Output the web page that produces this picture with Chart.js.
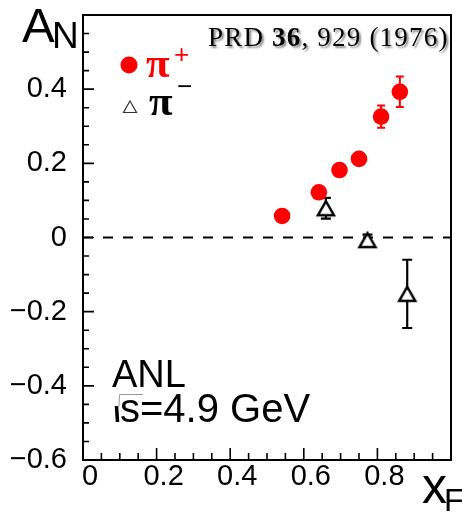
<!DOCTYPE html>
<html>
<head>
<meta charset="utf-8">
<script src="https://cdn.jsdelivr.net/npm/chart.js@4.4.1/dist/chart.umd.min.js"></script>
<style>
  html, body { margin: 0; padding: 0; background: #fff; }
  #wrap { width: 462px; height: 512px; }
</style>
</head>
<body>
<div id="wrap"><canvas id="c" width="462" height="512"></canvas></div>
<script>
// Single-spin asymmetry A_N versus x_F for pi+ and pi- (ANL, sqrt(s) = 4.9 GeV)
const xPiPlus  = [0.541, 0.641, 0.697, 0.750, 0.810, 0.861];
const aPiPlus  = [0.058, 0.122, 0.182, 0.212, 0.326, 0.393];
const ePiPlus  = [0.015, 0.015, 0.015, 0.015, 0.030, 0.041];

const xPiMinus = [0.660, 0.773, 0.881];
const aPiMinus = [0.079, -0.007, -0.152];
const ePiMinus = [0.028, 0.015, 0.092];

const xTickValues = [0, 0.2, 0.4, 0.6, 0.8];
const yTickValues = [-0.6, -0.4, -0.2, 0, 0.2, 0.4];

const SANS = '"Liberation Sans", Arial, sans-serif';
const SERIF = '"Liberation Serif", "Times New Roman", serif';

function fmt(v) {
  if (Math.abs(v) < 1e-9) return '0';
  return (v < 0 ? '\u2212' : '') + Math.abs(v).toFixed(1);
}

// Open triangle marker, centred on its bounding box
function triangleMarker(w, h, lw, stroke, fill) {
  const pad = Math.ceil(lw * 2);
  const c = document.createElement('canvas');
  c.width = Math.round(w + 2 * pad);
  c.height = Math.round(h + 2 * pad);
  const g = c.getContext('2d');
  const cx = c.width / 2, cy = c.height / 2;
  g.beginPath();
  g.moveTo(cx, cy - h / 2);
  g.lineTo(cx + w / 2, cy + h / 2);
  g.lineTo(cx - w / 2, cy + h / 2);
  g.closePath();
  if (fill) { g.fillStyle = fill; g.fill(); }
  g.lineWidth = lw;
  g.lineJoin = 'miter';
  g.strokeStyle = stroke;
  g.stroke();
  return c;
}

const triMarker = triangleMarker(16, 14, 2.5, '#000', '#fff');

function drawErrorBars(ctx, xs, ys, xArr, yArr, eArr, color, lw, cap) {
  ctx.save();
  ctx.strokeStyle = color;
  ctx.lineWidth = lw;
  for (let i = 0; i < xArr.length; i++) {
    const px = xs.getPixelForValue(xArr[i]);
    const top = ys.getPixelForValue(yArr[i] + eArr[i]);
    const bot = ys.getPixelForValue(yArr[i] - eArr[i]);
    ctx.beginPath();
    ctx.moveTo(px, top); ctx.lineTo(px, bot);
    ctx.moveTo(px - cap / 2, top); ctx.lineTo(px + cap / 2, top);
    ctx.moveTo(px - cap / 2, bot); ctx.lineTo(px + cap / 2, bot);
    ctx.stroke();
  }
  ctx.restore();
}

const decorations = {
  id: 'decorations',
  beforeDatasetsDraw(chart) {
    const { ctx, chartArea: a, scales } = chart;
    const xs = scales.x, ys = scales.y;
    // zero line
    const y0 = ys.getPixelForValue(0);
    ctx.save();
    ctx.strokeStyle = '#000';
    ctx.lineWidth = 2;
    ctx.setLineDash([10, 10]);
    ctx.beginPath();
    ctx.moveTo(a.left, y0); ctx.lineTo(a.right, y0);
    ctx.stroke();
    ctx.restore();
    drawErrorBars(ctx, xs, ys, xPiPlus, aPiPlus, ePiPlus, '#ff0000', 2, 8);
    drawErrorBars(ctx, xs, ys, xPiMinus, aPiMinus, ePiMinus, '#000', 2.2, 10);
  },
  afterDraw(chart) {
    const { ctx, chartArea: a, scales } = chart;
    const xs = scales.x, ys = scales.y;
    ctx.save();
    // frame
    ctx.strokeStyle = '#000';
    ctx.lineWidth = 2;
    ctx.strokeRect(a.left, a.top, a.right - a.left, a.bottom - a.top);
    // inward ticks
    ctx.lineWidth = 1.6;
    ctx.beginPath();
    for (let i = -12; i <= 12; i++) {
      const py = ys.getPixelForValue(i * 0.05);
      const len = (i % 4 === 0) ? 11 : 6;
      ctx.moveTo(a.left - 1, py); ctx.lineTo(a.left + len, py);
    }
    for (let i = 0; i <= 20; i++) {
      const px = xs.getPixelForValue(i * 0.05);
      const len = (i % 4 === 0) ? 12 : 7;
      ctx.moveTo(px, a.bottom + 1); ctx.lineTo(px, a.bottom - len);
    }
    ctx.stroke();

    ctx.fillStyle = '#000';
    ctx.textBaseline = 'alphabetic';
    ctx.textAlign = 'left';
    // axis titles
    ctx.font = '49px ' + SANS;
    ctx.fillText('A', 22, 42);
    ctx.font = '37px ' + SANS;
    ctx.fillText('N', 52, 48);
    ctx.font = '50px ' + SANS;
    ctx.fillText('x', 422, 503);
    ctx.font = '32px ' + SANS;
    ctx.fillText('F', 444, 511);

    // reference
    ctx.save();
    ctx.shadowColor = 'rgba(0,0,0,0.45)';
    ctx.shadowOffsetX = 2;
    ctx.shadowOffsetY = 2;
    ctx.shadowBlur = 2;
    try { ctx.letterSpacing = '1.2px'; } catch (e) {}
    let x = 208;
    ctx.font = '27px ' + SERIF;
    ctx.fillText('PRD ', x, 46); x += ctx.measureText('PRD ').width;
    ctx.font = 'bold 27px ' + SERIF;
    ctx.fillText('36', x, 46); x += ctx.measureText('36').width;
    ctx.font = '27px ' + SERIF;
    ctx.fillText(', 929 (1976)', x, 46);
    ctx.restore();

    // legend
    ctx.fillStyle = '#ff0000';
    ctx.beginPath();
    ctx.arc(129, 65, 8.5, 0, Math.PI * 2);
    ctx.fill();
    ctx.font = 'bold 43px ' + SERIF;
    ctx.fillText('\u03c0', 146, 77);
    ctx.font = '26px ' + SANS;
    ctx.fillText('+', 174, 63);

    ctx.strokeStyle = '#333';
    ctx.lineWidth = 1.2;
    ctx.beginPath();
    ctx.moveTo(130, 101); ctx.lineTo(136.5, 112.5); ctx.lineTo(123.5, 112.5); ctx.closePath();
    ctx.stroke();
    ctx.fillStyle = '#000';
    ctx.font = 'bold 43px ' + SERIF;
    ctx.fillText('\u03c0', 149, 115);
    ctx.font = '26px ' + SANS;
    ctx.fillText('\u2212', 177, 95);

    // experiment label
    ctx.font = '38px ' + SANS;
    ctx.fillText('ANL', 112, 387);
    ctx.font = '40px ' + SANS;
    ctx.fillText('s=4.9 GeV', 120, 422);
    // root sign
    ctx.strokeStyle = '#000';
    ctx.lineWidth = 3.5;
    ctx.beginPath();
    ctx.moveTo(116.5, 406); ctx.lineTo(117.5, 422);
    ctx.stroke();
    ctx.strokeStyle = '#999';
    ctx.lineWidth = 1;
    ctx.beginPath();
    ctx.moveTo(119, 406); ctx.lineTo(119.5, 394.5); ctx.lineTo(143, 394.5);
    ctx.stroke();
    ctx.restore();
  }
};

const piPlusPoints = xPiPlus.map((x, i) => ({ x: x, y: aPiPlus[i] }));
const piMinusPoints = xPiMinus.map((x, i) => ({ x: x, y: aPiMinus[i] }));

new Chart(document.getElementById('c'), {
  type: 'scatter',
  data: {
    datasets: [
      {
        label: '\u03c0+',
        data: piPlusPoints,
        pointStyle: 'circle',
        pointRadius: 8.3,
        pointBackgroundColor: '#ff0000',
        pointBorderColor: '#ff0000',
        pointBorderWidth: 0
      },
      {
        label: '\u03c0\u2212',
        data: piMinusPoints,
        pointStyle: triMarker,
        pointRadius: 10
      }
    ]
  },
  options: {
    responsive: false,
    animation: false,
    devicePixelRatio: 1,
    layout: { padding: { top: 15, right: 9, left: 0, bottom: 0 } },
    plugins: { legend: { display: false }, tooltip: { enabled: false } },
    scales: {
      x: {
        type: 'linear',
        min: 0, max: 1,
        grid: { display: false },
        border: { display: false },
        afterBuildTicks(s) { s.ticks = xTickValues.map(v => ({ value: v })); },
        afterFit(s) {
          s.height = 52;
          s.paddingLeft = 0; s.paddingRight = 0; s.paddingTop = 0; s.paddingBottom = 0;
        },
        ticks: {
          color: '#000',
          padding: -8,
          labelOffset: 7,
          maxRotation: 0,
          autoSkip: false,
          font: { family: SANS, size: 29 },
          callback: v => fmt(v)
        }
      },
      y: {
        type: 'linear',
        min: -0.6, max: 0.6,
        grid: { display: false },
        border: { display: false },
        afterBuildTicks(s) { s.ticks = yTickValues.map(v => ({ value: v })); },
        afterFit(s) {
          s.width = 83;
          s.paddingLeft = 0; s.paddingRight = 0; s.paddingTop = 0; s.paddingBottom = 0;
        },
        ticks: {
          color: '#000',
          padding: 8,
          autoSkip: false,
          font: { family: SANS, size: 29 },
          callback: v => fmt(v)
        }
      }
    }
  },
  plugins: [decorations]
});
</script>
</body>
</html>
